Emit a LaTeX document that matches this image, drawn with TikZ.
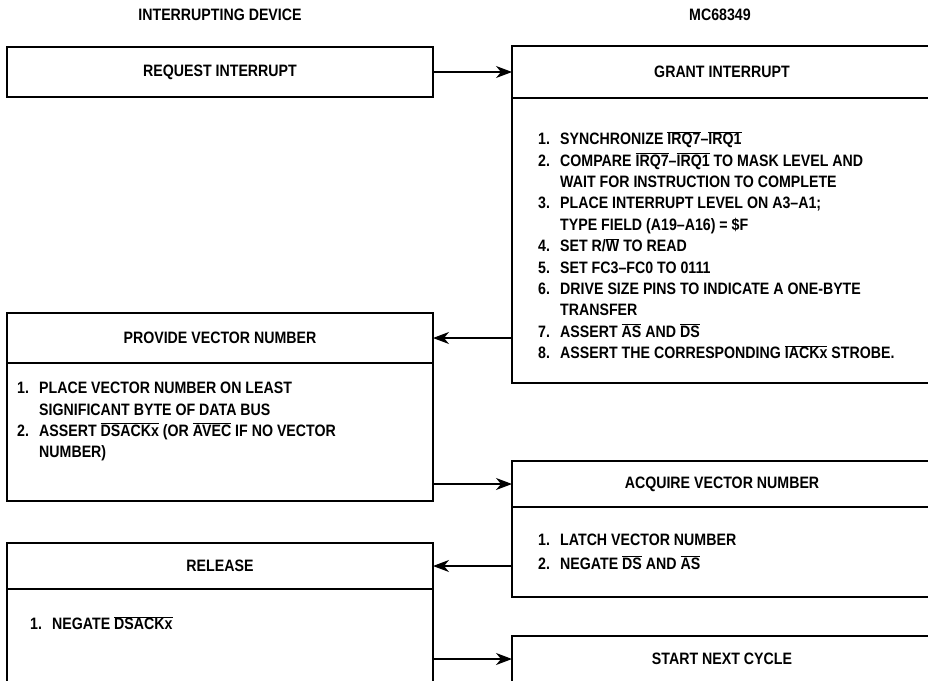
\documentclass[tikz,border=0pt]{standalone}
\usepackage{fontspec}
\setmainfont{Liberation Sans}[FakeStretch=0.86]
\usetikzlibrary{arrows.meta}

\newcommand{\ovl}[1]{\ensuremath{\overline{\mbox{#1}}}}
\newcommand{\itemno}[1]{\makebox[22pt][l]{#1}}
\newcommand{\cont}{\hspace*{22pt}}

\begin{document}
\begin{tikzpicture}[x=1pt, y=-1pt, font=\fontsize{16.5}{21.4}\selectfont\bfseries,
  box/.style={draw, line width=1.9pt, inner sep=0pt, outer sep=0pt},
  lhead/.style={box, minimum width=426pt, minimum height=46pt},
  rhead/.style={box, minimum width=420pt, minimum height=46pt},
  steps/.style={anchor=north west, inner sep=0pt, align=left},
  arr/.style={-{Stealth[length=16pt, width=12pt, inset=5pt]}, line width=1.2pt}]
\useasboundingbox (0,0) rectangle (928,680);
\clip (0,0) rectangle (928,680);

% column titles
\node (devtitle) at (220,15) {INTERRUPTING DEVICE};
\node (cputitle) at (720,15) {MC68349};

% interrupting device
\node[lhead, minimum height=50pt] (request) at (220,72) {REQUEST INTERRUPT};
\node[lhead, minimum height=50pt] (provide) at (220,338) {PROVIDE VECTOR NUMBER};
\node[lhead, minimum height=138pt, anchor=north] (providebody) at (provide.south) {};
\node[lhead] (release) at (220,566) {RELEASE};
\node[lhead, minimum height=110pt, anchor=north] (releasebody) at (release.south) {};

% MC68349
\node[rhead, minimum height=52pt] (grant) at (722,72) {GRANT INTERRUPT};
\node[rhead, minimum height=285pt, anchor=north] (grantbody) at (grant.south) {};
\node[rhead] (acquire) at (722,484) {ACQUIRE VECTOR NUMBER};
\node[rhead, minimum height=90pt, anchor=north] (acquirebody) at (acquire.south) {};
\node[rhead] (start) at (722,659) {START NEXT CYCLE};

% step lists
\node[steps] (grantsteps) at (538,128.5) {\rule{0pt}{16pt}\itemno{1.}SYNCHRONIZE \ovl{IRQ7}--\ovl{IRQ1}\\
  \itemno{2.}COMPARE \ovl{IRQ7}--\ovl{IRQ1} TO MASK LEVEL AND\\
  \cont WAIT FOR INSTRUCTION TO COMPLETE\\
  \itemno{3.}PLACE INTERRUPT LEVEL ON A3--A1;\\
  \cont TYPE FIELD (A19--A16) = \$F\\
  \itemno{4.}SET R/\ovl{W} TO READ\\
  \itemno{5.}SET FC3--FC0 TO 0111\\
  \itemno{6.}DRIVE SIZE PINS TO INDICATE A ONE-BYTE\\
  \cont TRANSFER\\
  \itemno{7.}ASSERT \ovl{AS} AND \ovl{DS}\\
  \itemno{8.}ASSERT THE CORRESPONDING \ovl{IACKx} STROBE.};
\node[steps] (providesteps) at (17,377.5) {\rule{0pt}{16pt}\itemno{1.}PLACE VECTOR NUMBER ON LEAST\\
  \cont SIGNIFICANT BYTE OF DATA BUS\\
  \itemno{2.}ASSERT \ovl{DSACKx} (OR \ovl{AVEC} IF NO VECTOR\\
  \cont NUMBER)};
\node[steps] (acquiresteps) at (538,529.5) {\rule{0pt}{16pt}\itemno{1.}LATCH VECTOR NUMBER\\[2pt]
  \itemno{2.}NEGATE \ovl{DS} AND \ovl{AS}};
\node[steps] (releasesteps) at (30,613.5) {\rule{0pt}{16pt}\itemno{1.}NEGATE \ovl{DSACKx}};

% handshake
\draw[arr] (request.east) -- (grant.west);
\draw[arr] (grantbody.west |- provide.east) -- (provide.east);
\draw[arr] (providebody.east |- acquire.west) -- (acquire.west);
\draw[arr] (acquirebody.west |- release.east) -- (release.east);
\draw[arr] (releasebody.east |- start.west) -- (start.west);
\end{tikzpicture}
\end{document}
